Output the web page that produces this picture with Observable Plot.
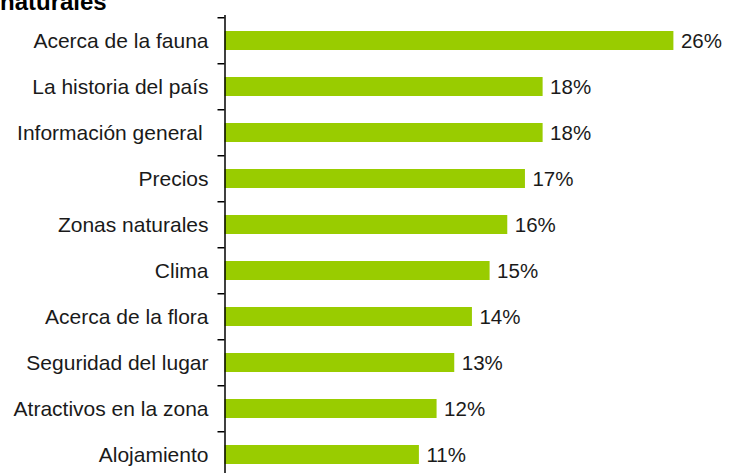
<!DOCTYPE html>
<html>
<head>
<meta charset="utf-8">
<script src="https://cdn.jsdelivr.net/npm/d3@7"></script>
<script src="https://cdn.jsdelivr.net/npm/@observablehq/plot@0.6"></script>
<style>
  html, body { margin: 0; padding: 0; background: #fff; overflow: hidden; width: 734px; height: 473px; }
  #wrap { position: relative; width: 734px; height: 473px; }
  #title { position: absolute; left: 0; top: -10px; z-index: 2; font: bold 24px "Liberation Sans", Arial, sans-serif; line-height: 24px; color: #000; white-space: nowrap; }
  #chart { position: absolute; left: 0; top: 0; z-index: 1; }
</style>
</head>
<body>
<div id="wrap">
  <div id="title">naturales</div>
  <div id="chart"></div>
</div>
<script>
const categories = [
  "Acerca de la fauna",
  "La historia del país",
  "Información general ",
  "Precios",
  "Zonas naturales",
  "Clima",
  "Acerca de la flora",
  "Seguridad del lugar",
  "Atractivos en la zona",
  "Alojamiento"
];
const values = [25.4, 18, 18, 17, 16, 15, 14, 13, 12, 11];
const valueLabels = ["26%", "18%", "18%", "17%", "16%", "15%", "14%", "13%", "12%", "11%"];

const data = categories.map((c, i) => ({cat: c, v: values[i], label: valueLabels[i]}));

const height = 480, marginTop = 15, marginBottom = 0;
const step = (height - marginTop - marginBottom) / categories.length;

const chart = Plot.plot({
  width: 734,
  height,
  marginTop,
  marginBottom,
  marginLeft: 224.5,
  marginRight: 50,
  style: {fontFamily: '"Liberation Sans", Arial, sans-serif', fontSize: "20px", color: "#1a1a1a", background: "transparent"},
  x: {domain: [0, 26], axis: null},
  y: {domain: categories, paddingInner: 0.59, paddingOuter: 0.295, label: null},
  marks: [
    Plot.barX(data, {y: "cat", x: "v", fill: "#99cc00"}),
    Plot.text(data, {y: "cat", x: "v", text: "label", textAnchor: "start", dx: 7, fill: "#1a1a1a", fontSize: 20.5}),
    Plot.axisY({tickSize: 0, tickPadding: 16.5, fontSize: 21, fill: "#1a1a1a", label: null}),
    Plot.axisY({tickSize: 7, text: null, dy: -step / 2, stroke: "#000", strokeWidth: 1.5, label: null}),
    Plot.ruleX([0], {stroke: "#000", strokeWidth: 1.5})
  ]
});
document.getElementById("chart").appendChild(chart);
</script>
</body>
</html>
